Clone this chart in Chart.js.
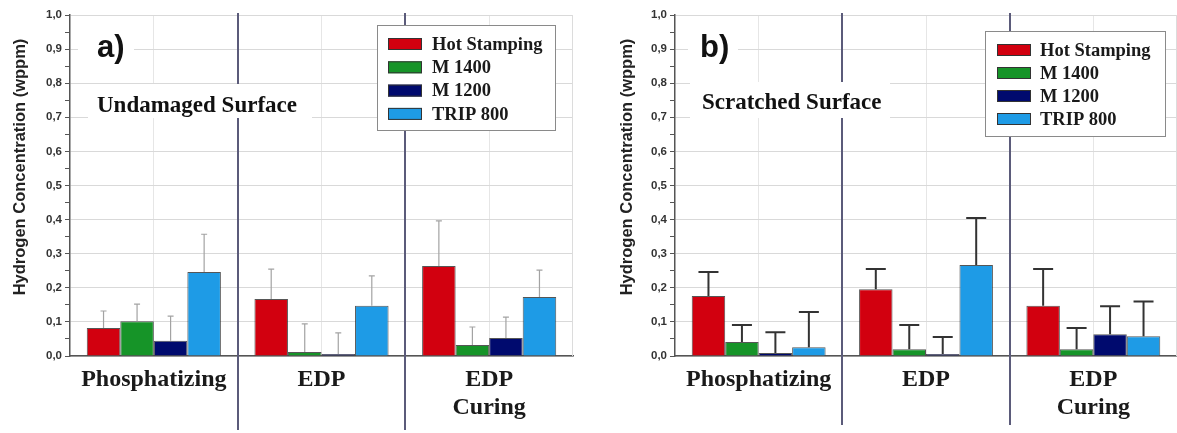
<!DOCTYPE html>
<html>
<head>
<meta charset="utf-8">
<script src="https://cdn.jsdelivr.net/npm/chart.js@4"></script>
<style>
  body { margin: 0; background: #fff; }
  .panel { position: absolute; top: 0; height: 433px; }
</style>
</head>
<body>
<div class="panel" style="left:0;width:590px"><canvas id="chartA" width="590" height="433"></canvas></div>
<div class="panel" style="left:590px;width:587px"><canvas id="chartB" width="587" height="433"></canvas></div>
<script>
// categories and series
const categories = ['Phosphatizing', 'EDP', ['EDP', 'Curing']];
const seriesNames = ['Hot Stamping', 'M 1400', 'M 1200', 'TRIP 800'];
const seriesColors = ['#d2000f', '#169428', '#000a6e', '#1e9be6'];
const yTitle = 'Hydrogen Concentration (wppm)';

// a) undamaged surface - means
const hotStampingA = [0.082, 0.167, 0.264];
const m1400A = [0.102, 0.012, 0.032];
const m1200A = [0.045, 0.006, 0.053];
const trip800A = [0.246, 0.147, 0.173];
// a) error (upper)
const hotStampingErrA = [0.050, 0.088, 0.132];
const m1400ErrA = [0.050, 0.082, 0.053];
const m1200ErrA = [0.072, 0.062, 0.061];
const trip800ErrA = [0.111, 0.088, 0.079];

// b) scratched surface - means
const hotStampingB = [0.176, 0.196, 0.147];
const m1400B = [0.041, 0.020, 0.020];
const m1200B = [0.009, 0.006, 0.064];
const trip800B = [0.026, 0.267, 0.058];
// b) error (upper)
const hotStampingErrB = [0.070, 0.059, 0.108];
const m1400ErrB = [0.050, 0.071, 0.062];
const m1200ErrB = [0.061, 0.050, 0.082];
const trip800ErrB = [0.103, 0.138, 0.102];

const serif = '"Liberation Serif", "Times New Roman", serif';
const sans = '"Liberation Sans", Arial, sans-serif';

const isMajor = v => Math.round(v * 100) % 10 === 0;

// error bars, separators, labels, legend
const panelDecor = {
  id: 'panelDecor',
  beforeDatasetsDraw(chart) {
    const { ctx, chartArea } = chart;
    ctx.save();
    ctx.strokeStyle = '#dcdcdc';
    ctx.lineWidth = 1;
    ctx.beginPath();
    ctx.moveTo(chartArea.right - 0.5, chartArea.top);
    ctx.lineTo(chartArea.right - 0.5, chartArea.bottom);
    ctx.stroke();
    ctx.restore();
  },
  afterDatasetsDraw(chart, args, o) {
    const { ctx } = chart;
    const y = chart.scales.y;
    ctx.save();
    ctx.strokeStyle = o.errColor;
    ctx.lineWidth = o.errWidth;
    chart.data.datasets.forEach((ds, i) => {
      const meta = chart.getDatasetMeta(i);
      meta.data.forEach((bar, j) => {
        const top = y.getPixelForValue(ds.data[j] + o.errors[i][j]);
        ctx.beginPath();
        ctx.moveTo(bar.x, bar.y);
        ctx.lineTo(bar.x, top);
        ctx.moveTo(bar.x - o.capWidth / 2, top);
        ctx.lineTo(bar.x + o.capWidth / 2, top);
        ctx.stroke();
      });
    });
    ctx.restore();
  },
  afterDraw(chart, args, o) {
    const { ctx } = chart;
    const x = chart.scales.x;
    ctx.save();

    // group separators
    ctx.strokeStyle = '#5b5b7a';
    ctx.lineWidth = 2;
    for (let i = 0; i < categories.length - 1; i++) {
      const sx = Math.round((x.getPixelForValue(i) + x.getPixelForValue(i + 1)) / 2);
      ctx.beginPath();
      ctx.moveTo(sx, 13);
      ctx.lineTo(sx, o.sepBottom);
      ctx.stroke();
    }

    // white boxes behind the panel texts
    ctx.fillStyle = '#fff';
    ctx.fillRect(o.tagBox[0], o.tagBox[1], o.tagBox[2], o.tagBox[3]);
    ctx.fillRect(o.surfBox[0], o.surfBox[1], o.surfBox[2], o.surfBox[3]);

    ctx.fillStyle = '#111';
    ctx.textAlign = 'left';
    ctx.textBaseline = 'alphabetic';
    ctx.font = 'bold 31px ' + sans;
    ctx.fillText(o.tag, o.tagX, o.tagY);
    ctx.font = 'bold 23px ' + serif;
    ctx.fillText(o.surface, o.surfX, o.surfY);

    // y title
    ctx.save();
    ctx.translate(o.titleX, 167);
    ctx.rotate(-Math.PI / 2);
    ctx.textAlign = 'center';
    ctx.textBaseline = 'middle';
    ctx.font = 'bold 16.5px ' + sans;
    ctx.fillStyle = '#222';
    ctx.fillText(yTitle, 0, 0);
    ctx.restore();

    // legend
    const L = o.legend;
    ctx.fillStyle = '#fff';
    ctx.fillRect(L.x, L.y, L.w, L.h);
    ctx.strokeStyle = '#8a8a8a';
    ctx.lineWidth = 1;
    ctx.strokeRect(L.x + 0.5, L.y + 0.5, L.w, L.h);
    ctx.font = 'bold 18.5px ' + serif;
    ctx.textBaseline = 'middle';
    chart.data.datasets.forEach((ds, i) => {
      const ry = L.rowY + i * L.rowGap;
      ctx.fillStyle = ds.backgroundColor;
      ctx.fillRect(L.swX, ry - 6, 34, 12);
      ctx.strokeStyle = '#333';
      ctx.strokeRect(L.swX + 0.5, ry - 5.5, 33, 11);
      ctx.fillStyle = '#1a1a1a';
      ctx.fillText(ds.label, L.textX, ry + 1);
    });
    ctx.restore();
  }
};

function makeChart(id, series, decor, yWidth, padRight) {
  return new Chart(document.getElementById(id), {
    type: 'bar',
    data: {
      labels: categories,
      datasets: seriesNames.map((name, i) => ({
        label: name,
        data: series[i],
        backgroundColor: seriesColors[i],
        borderColor: 'rgba(30,30,30,0.75)',
        borderWidth: 1,
        barPercentage: 1.0,
        categoryPercentage: 0.8,
      })),
    },
    options: {
      responsive: false,
      animation: false,
      devicePixelRatio: 1,
      layout: { padding: { top: 15, right: padRight, left: 0, bottom: 0 } },
      plugins: {
        legend: { display: false },
        tooltip: { enabled: false },
        panelDecor: decor,
      },
      scales: {
        x: {
          grid: { offset: false, color: '#e6e6e6', drawTicks: false },
          border: { color: '#555', width: 1.5 },
          ticks: {
            font: { family: serif, size: 24, weight: 'bold', lineHeight: 1.2 },
            color: '#1a1a1a',
            padding: 9,
            maxRotation: 0,
            autoSkip: false,
          },
          afterFit: s => { s.height = 77; },
        },
        y: {
          min: 0,
          max: 1,
          grid: {
            color: c => (c.tick && isMajor(c.tick.value) ? '#d9d9d9' : 'rgba(0,0,0,0)'),
            tickColor: '#555',
            tickLength: 5,
          },
          border: { color: '#555', width: 1.5 },
          ticks: {
            stepSize: 0.05,
            autoSkip: false,
            padding: 3,
            color: '#333',
            font: { family: sans, size: 11.5, weight: 'bold' },
            callback: v => (isMajor(v) ? (Math.round(v * 10) / 10).toFixed(1).replace('.', ',') : ''),
          },
          afterFit: s => { s.width = yWidth; },
        },
      },
    },
    plugins: [panelDecor],
  });
}

makeChart('chartA',
  [hotStampingA, m1400A, m1200A, trip800A],
  {
    errors: [hotStampingErrA, m1400ErrA, m1200ErrA, trip800ErrA],
    errColor: '#a3a3a3', errWidth: 1.2, capWidth: 6,
    sepBottom: 430,
    tag: 'a)', tagX: 97, tagY: 57, tagBox: [78, 28, 56, 38],
    surface: 'Undamaged Surface', surfX: 97, surfY: 112, surfBox: [88, 84, 224, 34],
    titleX: 20,
    legend: { x: 377, y: 25, w: 178, h: 105, swX: 388, textX: 432, rowY: 44, rowGap: 23.3 },
  }, 70, 17);

makeChart('chartB',
  [hotStampingB, m1400B, m1200B, trip800B],
  {
    errors: [hotStampingErrB, m1400ErrB, m1200ErrB, trip800ErrB],
    errColor: '#333', errWidth: 2, capWidth: 20,
    sepBottom: 425,
    tag: 'b)', tagX: 110, tagY: 57, tagBox: [98, 28, 50, 38],
    surface: 'Scratched Surface', surfX: 112, surfY: 109, surfBox: [100, 82, 200, 36],
    titleX: 37,
    legend: { x: 395, y: 31, w: 180, h: 105, swX: 407, textX: 450, rowY: 50, rowGap: 23 },
  }, 85, 0);
</script>
</body>
</html>
